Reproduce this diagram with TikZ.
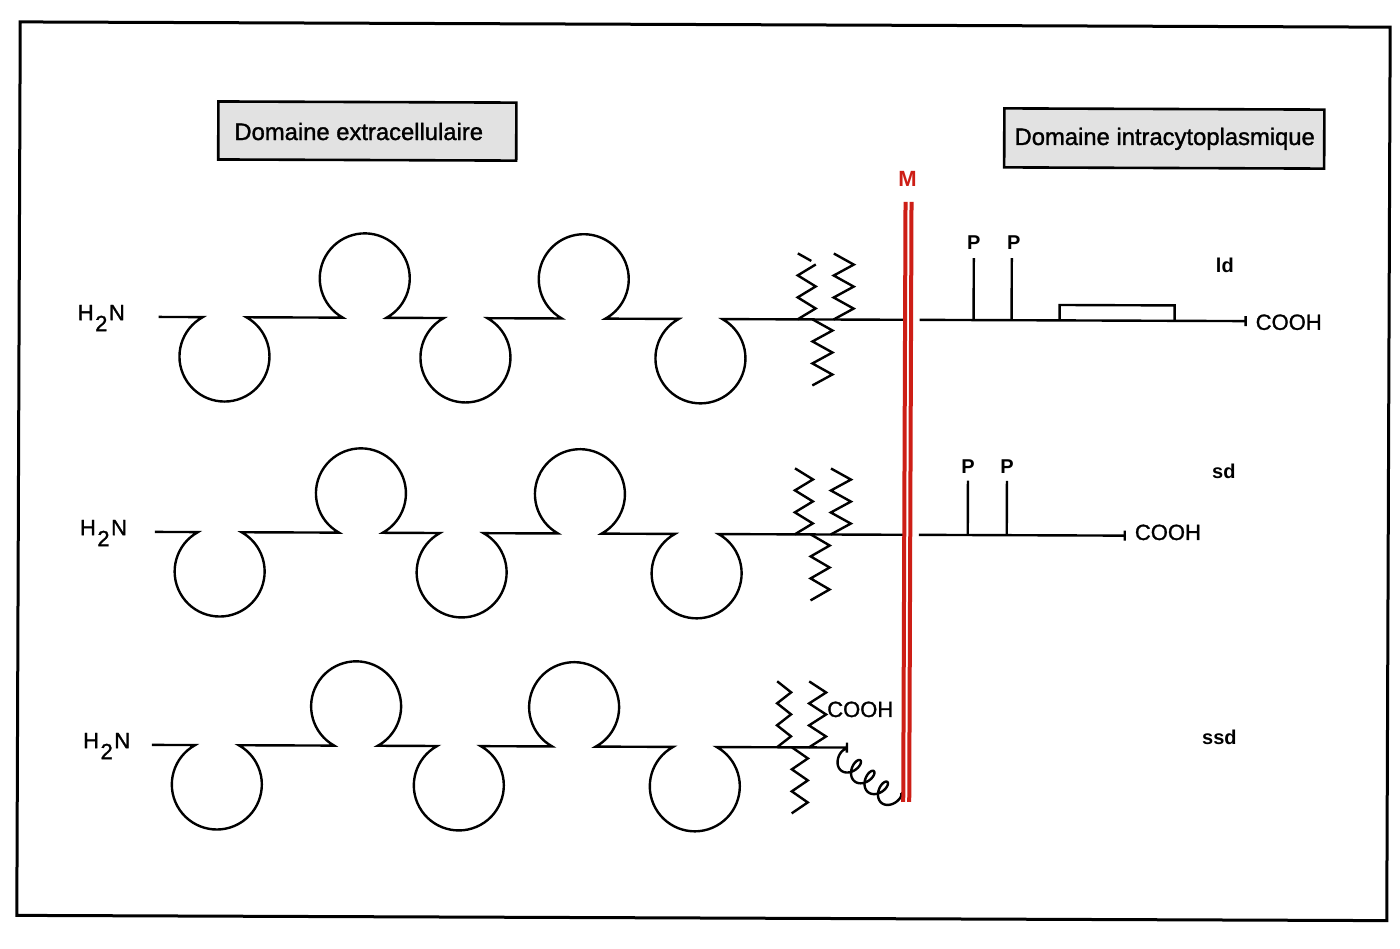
\documentclass[tikz,border=0pt]{standalone}
\usepackage{fontspec}
\setmainfont{Liberation Sans}
\newfontfamily\heavy[FakeBold=1.3]{Liberation Sans}
\definecolor{memred}{RGB}{205,30,22}
\definecolor{boxgray}{RGB}{226,226,226}
\tikzset{
  bb/.style={line width=2.4pt, black},
  zz/.style={line width=2.4pt, black, line join=miter},
  mem/.style={line width=4pt, memred},
  lblbox/.style={draw=black, line width=2.6pt, fill=boxgray},
  boxtxt/.style={inner sep=0pt, anchor=base, font=\heavy\fontsize{23.8}{26}\selectfont},
  plain/.style={inner sep=0pt, anchor=base west, font=\heavy\fontsize{22}{24}\selectfont},
  plab/.style={inner sep=0pt, anchor=base, font=\bfseries\fontsize{20}{22}\selectfont},
  rowlab/.style={inner sep=0pt, anchor=base west, font=\bfseries\fontsize{20}{22}\selectfont},
  frame/.style={draw=black, line width=3pt}
}
% start x, Y, five loop centres (low, up, low, up, low), end x
\newcommand\protrow[8]{%
  \draw[bb] (#1,#2) -- (#3-21.8,#2) arc[start angle=241,end angle=-61,radius=45]
    -- (#4-21.8,#2) arc[start angle=119,end angle=421,radius=45]
    -- (#5-21.8,#2) arc[start angle=241,end angle=-61,radius=45]
    -- (#6-21.8,#2) arc[start angle=119,end angle=421,radius=45]
    -- (#7-21.8,#2) arc[start angle=241,end angle=-61,radius=45]
    -- (#8,#2);}
% zigzag: xL, xR, ytop
\newcommand\zigz[3]{%
  \draw[zz] (#1,#3) -- (#2,#3+11) -- (#1,#3+22) -- (#2,#3+33) -- (#1,#3+44) -- (#2,#3+55) -- (#1,#3+66);}
\newcommand\hdn{H\kern1.5pt\raisebox{-11pt}{2}\kern1.5pt N}
\begin{document}
\begin{tikzpicture}[x=1pt,y=-1pt]
\useasboundingbox (0,0) rectangle (1400,948);
\fill[white] (0,0) rectangle (1400,948);
\begin{scope}[rotate around={-0.22:(700,470)}]
  % frame
  \draw[frame] (18.5,24.5) rectangle (1388.5,918);
  % label boxes
  \draw[lblbox] (217,103.3) rectangle (515,161.3);
  \node[boxtxt] (extra) at (357.5,141.3) {Domaine extracellulaire};
  \draw[lblbox] (1003,107.2) rectangle (1323,166.2);
  \node[boxtxt] (intra) at (1163.5,143.2) {Domaine intracytoplasmique};

  % ---- row 1 (ld)
  \node[plain] (h1) at (77,322.5) {\hdn};
  \protrow{158}{319}{224}{364}{465}{583}{700}{903}
  \draw[zz] (797,253) -- (810.5,260.5);
  \draw[zz] (815,264) -- (797,275) -- (815,286) -- (797,297) -- (815,308) -- (797,319);
  \zigz{833}{853}{253}
  \zigz{812}{832}{319}
  \draw[bb] (919,319) -- (1245,319);
  \draw[bb] (1245,314) -- (1245,324);
  \draw[bb] (973,257) -- (973,319);
  \draw[bb] (1011,257) -- (1011,319);
  \draw[bb] (1059,319) -- (1059,303.6) -- (1174,303.6) -- (1174,319);
  \node[plab] (p1a) at (973,248) {P};
  \node[plab] (p1b) at (1013,248) {P};
  \node[plain] (c1) at (1255,327.7) {COOH};
  \node[rowlab] (ld) at (1215,271) {ld};

  % ---- row 2 (sd)
  \node[plain] (h2) at (80,537.5) {\hdn};
  \protrow{155}{534}{220}{361}{462}{580}{697}{903}
  \zigz{795}{813}{468}
  \zigz{831}{851}{468}
  \zigz{811}{830}{534}
  \draw[bb] (919,534) -- (1125,534);
  \draw[bb] (1125,529) -- (1125,539);
  \draw[bb] (968,479.7) -- (968,534);
  \draw[bb] (1007,479.7) -- (1007,534);
  \node[plab] (p2a) at (968,472) {P};
  \node[plab] (p2b) at (1007,472) {P};
  \node[plain] (c2) at (1135,538.3) {COOH};
  \node[rowlab] (sd) at (1212,477) {sd};

  % ---- row 3 (ssd)
  \node[plain] (h3) at (84,750.5) {\hdn};
  \protrow{153}{747}{218}{357}{460}{575}{696}{848}
  \zigz{778}{792}{681}
  \zigz{810}{827}{681}
  \zigz{793}{809}{747}
  \draw[bb] (848,742) -- (848,752);
  \coordinate (coilA) at (848,749);
  \begin{scope}[shift={(coilA)}, rotate=-38.5]
    \draw[bb, line join=round] plot[domain=0:25.133, samples=220, smooth]
      ({2.75*\x - 6.5*sin(\x r)}, {10*(1-cos(\x r))});
  \end{scope}
  \node[plain] (c3) at (828,716.5) {COOH};
  \node[rowlab] (ssd) at (1203,743) {ssd};

  % membrane
  \draw[mem] (904.5,201) -- (904.5,801);
  \draw[mem] (910.5,201) -- (910.5,801);
  \node[plab, text=memred, font=\bfseries\fontsize{22}{24}\selectfont] (M) at (906.5,185.5) {M};
\end{scope}
\end{tikzpicture}
\end{document}
